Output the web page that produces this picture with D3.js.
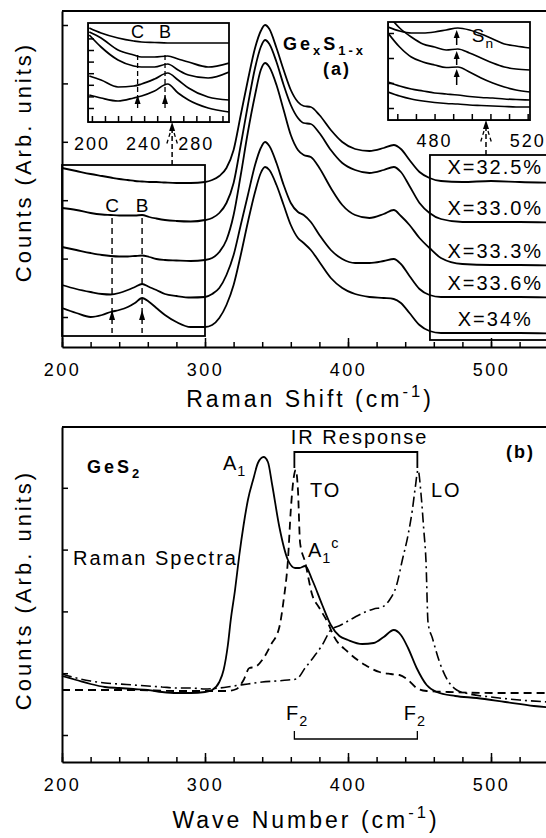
<!DOCTYPE html>
<html>
<head>
<meta charset="utf-8">
<title>GexS1-x Raman spectra</title>
<script src="https://cdn.jsdelivr.net/npm/d3@7"></script>
<style>
    body { margin: 0; background: #fff; overflow: hidden; }
    svg { display: block; font-family: 'Liberation Sans', Arial, sans-serif; }
</style>
</head>
<body>
<div id="container"></div>
<script>
// ---- panel (a): Raman spectra of GexS1-x, counts in arbitrary units ----
var xTop = [200,210,220,228,234,240,246,251,256,261,266,272,280,290,300,305,310,315,320,325,330,335,339,342,345,350,355,360,365,369,374,380,388,396,405,415,425,432,437,443,450,457,465,480,500,520,555];
var compLabels = ['X=32.5%', 'X=33.0%', 'X=33.3%', 'X=33.6%', 'X=34%'];
var s325 = [17.9,17.6,17.3,17.1,16.95,16.8,16.7,16.6,16.55,16.5,16.5,16.45,16.4,16.4,16.5,16.7,17.1,17.9,19.7,23.2,26.7,29.9,31.6,32.2,31.8,29.9,27.7,25.7,24.5,24.1,24.0,23.2,21.7,20.5,19.8,19.6,19.9,20.2,19.8,18.7,17.5,16.9,16.6,16.5,16.6,16.5,16.4];
var s330 = [13.9,13.7,13.4,13.25,13.2,13.15,13.15,13.15,13.2,13.0,12.85,12.7,12.6,12.55,12.7,12.9,13.4,14.4,16.4,20.2,24.2,27.9,30.0,30.7,30.3,28.5,26.2,24.2,22.9,22.4,22.3,21.4,19.7,18.4,17.7,17.4,17.7,18.0,17.5,16.1,14.4,13.4,12.8,12.5,12.5,12.5,12.4];
var s333 = [10.0,9.7,9.4,9.2,9.1,9.05,9.05,9.1,9.15,9.0,8.8,8.7,8.65,8.6,8.7,8.9,9.5,10.7,13.2,17.2,21.5,25.2,27.7,28.4,28.0,26.2,23.7,21.2,19.7,19.2,19.0,17.9,15.9,14.2,13.2,12.9,13.3,13.7,13.1,12.2,10.9,9.9,8.9,8.3,8.2,8.2,8.1];
var s336 = [6.2,5.8,5.5,5.3,5.25,5.4,5.7,6.0,6.3,6.0,5.7,5.3,5.1,4.95,5.0,5.3,5.9,7.2,9.2,12.2,15.2,18.2,19.9,20.5,20.1,18.4,16.2,14.4,13.5,13.2,12.5,11.2,9.7,8.8,8.4,8.4,8.6,8.8,8.3,7.1,5.8,5.2,5.0,5.0,5.0,5.0,4.9];
var s340 = [3.9,3.4,3.0,3.2,3.5,3.7,4.0,4.4,4.9,4.5,3.9,3.2,2.5,2.0,2.0,2.2,2.9,4.2,6.2,9.2,12.5,15.5,17.4,18.0,17.7,16.2,14.2,12.2,10.9,10.4,9.7,8.5,6.9,5.9,5.3,5.0,4.9,4.8,4.4,3.4,2.2,1.6,1.4,1.4,1.4,1.4,1.3];
var topSeries = [s325, s330, s333, s336, s340];
var bandC = 235, bandB = 256, bandSn = 489.5;

// inset, 200-300 cm-1 region
var insetLX = [198,207,220,232,238,248,258,266,274,289,305];
var iL1 = [9.4,8.9,8.4,8.1,8.0,7.95,7.9,7.9,7.9,7.9,7.9];
var iL2 = [9.0,8.4,7.2,6.7,6.5,6.5,6.6,6.3,6.0,5.5,5.9];
var iL3 = [8.7,7.5,6.2,5.6,5.5,5.5,5.8,5.2,4.7,4.4,5.0];
var iL4 = [4.6,4.2,3.5,3.6,3.8,4.3,4.9,4.2,3.4,2.5,2.2];
var iL5 = [2.7,2.4,2.1,2.4,2.6,3.1,3.8,2.9,2.2,1.4,1.0];
var insetLTicks = [200, 240, 280];

// inset, 460-520 cm-1 region
var insetRX = [460,465,470,475,480,485,490,495,500,505,510,515,521];
var iR1 = [9.3,8.9,8.7,8.7,8.8,9.0,9.2,9.0,8.6,8.1,7.6,7.4,7.2];
var iR2 = [10.5,9.2,8.3,7.6,7.3,7.0,7.1,6.7,6.2,5.7,5.3,5.1,5.0];
var iR3 = [8.7,7.3,6.3,5.8,5.5,5.25,5.3,4.8,4.2,3.7,3.3,3.0,2.8];
var iR4 = [3.8,3.4,3.1,2.9,2.7,2.6,2.5,2.35,2.25,2.2,2.1,2.05,2.0];
var iR5 = [2.8,2.4,2.1,1.9,1.75,1.65,1.6,1.5,1.45,1.4,1.35,1.3,1.3];
var insetRTicks = [480, 520];

// ---- panel (b): GeS2 Raman and IR response ----
var ramanX = [200,210,220,230,240,250,260,270,280,290,300,305,310,313,316,318,321,324,327,330,334,337,341,344,347,352,358,363,366,370,375,382,388,394,400,410,418,425,432,437,442,448,455,462,475,490,510,530,555];
var ramanY = [8.6,8.2,7.8,7.5,7.4,7.3,7.2,7.0,6.9,6.9,7.0,7.2,8.0,9.2,11.7,14.2,17.2,20.7,23.7,26.2,28.4,29.9,30.5,30.0,27.7,23.5,20.2,19.4,19.4,19.6,18.2,15.7,13.7,12.6,12.2,11.8,11.9,12.5,13.2,12.7,11.4,9.4,7.7,7.0,6.6,6.4,6.0,5.6,5.3];
var toX = [200,220,250,280,300,315,322,327,331,335,341,346,352,355,358,360,362,363.5,365,366.5,370,375,380,386,390,400,412,422,430,436,442,448,455,470,500,530,555];
var toY = [7.2,7.2,7.2,7.1,7.1,7.1,7.3,8.2,9.4,9.5,10.4,11.7,13.5,16.2,20.2,25.2,28.4,29.2,27.2,21.9,20.0,16.7,15.4,13.9,12.6,11.0,9.7,9.0,8.8,8.7,8.2,7.4,7.1,7.0,6.9,6.9,6.9];
var loX = [200,210,220,230,240,250,260,270,280,290,300,310,320,330,340,350,358,364,370,376,382,388,395,405,412,418,424,429,434,438,442,445,447,449,451,453,454.5,456,459,464,470,476,485,500,520,555];
var loY = [8.8,8.4,8.1,7.9,7.8,7.7,7.6,7.5,7.4,7.4,7.3,7.4,7.6,7.8,8.0,8.1,8.2,8.3,9.4,10.5,11.7,13.2,13.7,14.5,15.0,15.3,15.5,16.2,17.7,20.2,22.7,25.2,27.4,29.2,26.9,23.2,20.2,13.9,12.4,10.0,8.1,7.2,6.8,6.5,6.2,5.9];
var bandTO = 362.5, bandLO = 448.5;

var xMajor = [200, 300, 400, 500];

var W = 546, H = 838;
var svg = d3.select('#container').append('svg').attr('width', W).attr('height', H);

var x = d3.scaleLinear().domain([200, 555]).range([62, 569.65]);
var yA = d3.scaleLinear().domain([0, 33.6]).range([347, 11]);
var yB = d3.scaleLinear().domain([0, 33.5]).range([762, 427]);

function lineOf(xs, ys, sx, sy) {
    return d3.line().x(function (d, i) { return sx(xs[i]); }).y(function (d) { return sy(d); })
        .curve(d3.curveMonotoneX)(ys);
}

function rich(parent, px, py, parts, size, weight, ls, anchor) {
    var t = parent.append('text').attr('x', px).attr('y', py)
        .attr('font-size', size).attr('font-weight', weight || 'normal')
        .attr('text-anchor', anchor || 'start')
        .style('letter-spacing', (ls || 0) + 'px');
    var shift = 0;
    parts.forEach(function (p) {
        var s = typeof p === 'string' ? { t: p } : p;
        var target = s.sub ? size * 0.3 : (s.sup ? -size * 0.45 : 0);
        t.append('tspan').attr('dy', target - shift)
            .attr('font-size', (s.sub || s.sup) ? size * 0.72 : size).text(s.t);
        shift = target;
    });
    return t;
}

function arrowUp(g, px, tip, len) {
    g.append('path').attr('d', 'M' + px + ',' + tip + 'L' + (px - 3) + ',' + (tip + len) + 'L' + (px + 3) + ',' + (tip + len) + 'Z')
        .attr('fill', '#000');
}

function connector(g, px, yFrom, yTo) {
    g.append('line').attr('x1', px).attr('x2', px).attr('y1', yFrom).attr('y2', yTo + 8)
        .attr('stroke', '#000').attr('stroke-width', 1.5).attr('stroke-dasharray', '5,3');
    arrowUp(g, px, yTo, 9);
    [-1, 1].forEach(function (s) {
        g.append('line').attr('x1', px + s * 2).attr('y1', yTo + 11).attr('x2', px + s * 6).attr('y2', yTo + 24)
            .attr('stroke', '#000').attr('stroke-width', 1.3).attr('stroke-dasharray', '4,3');
    });
}

function xAxis(yPos) {
    var g = svg.append('g').attr('transform', 'translate(0,' + yPos + ')');
    g.call(d3.axisBottom(x).tickValues(d3.range(200, 560, 20)).tickSize(-5).tickSizeOuter(0).tickFormat(''));
    var gm = svg.append('g').attr('transform', 'translate(0,' + yPos + ')');
    gm.call(d3.axisBottom(x).tickValues(xMajor).tickSize(-9).tickSizeOuter(0).tickPadding(16).tickFormat(d3.format('d')));
    gm.select('.domain').remove();
    g.select('.domain').attr('stroke-width', 2);
    gm.selectAll('text').attr('font-size', 18).attr('font-family', "'Liberation Sans', Arial, sans-serif")
        .style('letter-spacing', '2.5px').attr('fill', '#000');
    svg.selectAll('.tick line').attr('stroke-width', 1.5);
}

function yAxis(scale, ticks) {
    var g = svg.append('g').attr('transform', 'translate(62,0)');
    g.call(d3.axisLeft(scale).tickValues(ticks).tickSize(-6).tickSizeOuter(0).tickFormat(''));
    g.select('.domain').attr('stroke-width', 2);
    g.selectAll('.tick line').attr('stroke-width', 1.5);
}

// ================= panel (a) =================
var pa = svg.append('g');
pa.append('line').attr('x1', 62).attr('x2', W).attr('y1', yA(33.6)).attr('y2', yA(33.6))
    .attr('stroke', '#000').attr('stroke-width', 2);
xAxis(yA(0));
yAxis(yA, d3.range(3.0, 33, 5.84));

topSeries.forEach(function (s) {
    pa.append('path').attr('d', lineOf(xTop, s, x, yA)).attr('fill', 'none')
        .attr('stroke', '#000').attr('stroke-width', 1.8);
});

// boxes around the zoomed regions
pa.append('rect').attr('x', x(200)).attr('y', yA(18.2)).attr('width', x(300) - x(200)).attr('height', yA(1.1) - yA(18.2))
    .attr('fill', 'none').attr('stroke', '#000').attr('stroke-width', 1.8);
pa.append('rect').attr('x', x(457.3)).attr('y', yA(19.2)).attr('width', 200).attr('height', yA(0.7) - yA(19.2))
    .attr('fill', 'none').attr('stroke', '#000').attr('stroke-width', 1.8);

// composition labels above each curve end
compLabels.forEach(function (t, i) {
    var v = topSeries[i][xTop.indexOf(500)];
    rich(pa, x(503), yA(v) - 7, [t], 20, 'normal', 2, 'middle');
});

// C and B bands in main plot
[[bandC, 'C'], [bandB, 'B']].forEach(function (b) {
    pa.append('line').attr('x1', x(b[0])).attr('x2', x(b[0])).attr('y1', yA(12.9)).attr('y2', yA(1.4))
        .attr('stroke', '#000').attr('stroke-width', 1.4).attr('stroke-dasharray', '6,4');
    arrowUp(pa, x(b[0]), yA(3.7), 10);
    rich(pa, x(b[0]), yA(13.5), [b[1]], 19, 'normal', 0, 'middle');
});

rich(pa, x(354.5), yA(29.7), ['Ge', { t: 'x', sub: true }, 'S', { t: '1-x', sub: true }], 18, 'bold', 3);
rich(pa, x(382.5), yA(27.2), ['(a)'], 18, 'bold', 2);

// left inset
var ixL = d3.scaleLinear().domain([197, 305]).range([88, 229]);
var iyL = d3.scaleLinear().domain([0, 9.9]).range([122, 23]);
var clipL = svg.append('clipPath').attr('id', 'clipL').append('rect')
    .attr('x', 88).attr('y', 23).attr('width', 141).attr('height', 99);
var gL = pa.append('g');
gL.append('rect').attr('x', 88).attr('y', 23).attr('width', 141).attr('height', 99).attr('fill', '#fff');
[iL1, iL2, iL3, iL4, iL5].forEach(function (s) {
    gL.append('path').attr('d', lineOf(insetLX, s, ixL, iyL)).attr('clip-path', 'url(#clipL)')
        .attr('fill', 'none').attr('stroke', '#000').attr('stroke-width', 1.7);
});
var gLb = gL.append('g').attr('transform', 'translate(0,122)')
    .call(d3.axisBottom(ixL).tickValues(d3.range(200, 306, 10)).tickSize(-6).tickSizeOuter(0).tickFormat(''));
var gLl = gL.append('g').attr('transform', 'translate(88,0)')
    .call(d3.axisLeft(iyL).tickValues(d3.range(1.4, 9, 1.16)).tickSize(-6).tickSizeOuter(0).tickFormat(''));
gL.append('rect').attr('x', 88).attr('y', 23).attr('width', 141).attr('height', 99)
    .attr('fill', 'none').attr('stroke', '#000').attr('stroke-width', 1.8);
insetLTicks.forEach(function (v) {
    rich(gL, ixL(v), 150, [String(v)], 18, 'normal', 2, 'middle');
});
[[bandC, 'C'], [bandB, 'B']].forEach(function (b) {
    gL.append('line').attr('x1', ixL(b[0])).attr('x2', ixL(b[0])).attr('y1', iyL(6.7)).attr('y2', iyL(1.2))
        .attr('stroke', '#000').attr('stroke-width', 1.3).attr('stroke-dasharray', '5,3');
    arrowUp(gL, ixL(b[0]), iyL(2.7), 9);
    rich(gL, ixL(b[0]), iyL(8.4), [b[1]], 18, 'normal', 0, 'middle');
});
connector(pa, x(277), yA(18.2), 122);

// right inset
var ixR = d3.scaleLinear().domain([460, 521]).range([388, 530]);
var iyR = d3.scaleLinear().domain([0, 9.8]).range([120, 22]);
svg.append('clipPath').attr('id', 'clipR').append('rect')
    .attr('x', 388).attr('y', 22).attr('width', 142).attr('height', 98);
var gR = pa.append('g');
gR.append('rect').attr('x', 388).attr('y', 22).attr('width', 142).attr('height', 98).attr('fill', '#fff');
[iR1, iR2, iR3, iR4, iR5].forEach(function (s) {
    gR.append('path').attr('d', lineOf(insetRX, s, ixR, iyR)).attr('clip-path', 'url(#clipR)')
        .attr('fill', 'none').attr('stroke', '#000').attr('stroke-width', 1.7);
});
gR.append('g').attr('transform', 'translate(0,120)')
    .call(d3.axisBottom(ixR).tickValues(d3.range(464, 521, 8)).tickSize(-6).tickSizeOuter(0).tickFormat(''));
gR.append('g').attr('transform', 'translate(388,0)')
    .call(d3.axisLeft(iyR).tickValues(d3.range(1.2, 9.5, 2.5)).tickSize(-6).tickSizeOuter(0).tickFormat(''));
gR.append('rect').attr('x', 388).attr('y', 22).attr('width', 142).attr('height', 98)
    .attr('fill', 'none').attr('stroke', '#000').attr('stroke-width', 1.8);
insetRTicks.forEach(function (v) {
    rich(gR, ixR(v), 147, [String(v)], 18, 'normal', 2, 'middle');
});
[[7.5, 9.0], [5.5, 6.9], [3.5, 5.1]].forEach(function (a) {
    gR.append('line').attr('x1', ixR(bandSn)).attr('x2', ixR(bandSn)).attr('y1', iyR(a[0])).attr('y2', iyR(a[1]) + 6)
        .attr('stroke', '#000').attr('stroke-width', 1.5);
    arrowUp(gR, ixR(bandSn), iyR(a[1]), 8);
});
rich(gR, ixR(496), iyR(7.8), ['S', { t: 'n', sub: true }], 19, 'normal', 1);
connector(pa, x(496.5), yA(19.2), 120);

pa.selectAll('.domain').attr('stroke', '#000');

// axis titles (a)
rich(svg, 310, 407, ['Raman Shift (cm', { t: '-1', sup: true }, ')'], 23, 'normal', 3, 'middle');
svg.append('text').attr('transform', 'translate(31,162) rotate(-90)').attr('text-anchor', 'middle')
    .attr('font-size', 22).style('letter-spacing', '3px').text('Counts (Arb. units)');

// ================= panel (b) =================
var pb = svg.append('g');
pb.append('line').attr('x1', 62).attr('x2', W).attr('y1', yB(33.5)).attr('y2', yB(33.5))
    .attr('stroke', '#000').attr('stroke-width', 2);
xAxis(yB(0));
yAxis(yB, d3.range(2.7, 30, 6.18));

pb.append('path').attr('d', lineOf(ramanX, ramanY, x, yB)).attr('fill', 'none')
    .attr('stroke', '#000').attr('stroke-width', 1.8);
pb.append('path').attr('d', lineOf(toX, toY, x, yB)).attr('fill', 'none')
    .attr('stroke', '#000').attr('stroke-width', 1.8).attr('stroke-dasharray', '8,5');
pb.append('path').attr('d', lineOf(loX, loY, x, yB)).attr('fill', 'none')
    .attr('stroke', '#000').attr('stroke-width', 1.6).attr('stroke-dasharray', '10,4,2,4');

// IR response bracket
pb.append('path').attr('d', 'M' + x(bandTO) + ',' + yB(29.4) + 'V' + yB(31.0) + 'H' + x(bandLO) + 'V' + yB(29.4))
    .attr('fill', 'none').attr('stroke', '#000').attr('stroke-width', 1.8);
// F2 bracket
pb.append('path').attr('d', 'M' + x(bandTO) + ',' + yB(3.1) + 'V' + yB(2.3) + 'H' + x(bandLO) + 'V' + yB(3.1))
    .attr('fill', 'none').attr('stroke', '#000').attr('stroke-width', 1.3);

rich(pb, x(217.5), yB(28.9), ['GeS', { t: '2', sub: true }], 18, 'bold', 3);
rich(pb, x(312.6), yB(29.2), ['A', { t: '1', sub: true }], 20, 'normal', 1);
rich(pb, x(207.7), yB(19.7), ['Raman Spectra'], 20, 'normal', 2);
rich(pb, x(360), yB(31.8), ['IR Response'], 20, 'normal', 2);
rich(pb, x(510.5), yB(30.4), ['(b)'], 18, 'bold', 2);
rich(pb, x(373.4), yB(26.5), ['TO'], 20, 'normal', 2);
rich(pb, x(458), yB(26.5), ['LO'], 20, 'normal', 2);
rich(pb, x(372), yB(20.5), ['A', { t: '1', sub: true }, { t: 'c', sup: true }], 20, 'normal', 1);
rich(pb, x(356.6), yB(4.2), ['F', { t: '2', sub: true }], 20, 'normal', 1);
rich(pb, x(439), yB(4.2), ['F', { t: '2', sub: true }], 20, 'normal', 1);

rich(svg, 306, 828, ['Wave Number (cm', { t: '-1', sup: true }, ')'], 23, 'normal', 3, 'middle');
svg.append('text').attr('transform', 'translate(31,590) rotate(-90)').attr('text-anchor', 'middle')
    .attr('font-size', 22).style('letter-spacing', '3px').text('Counts (Arb. units)');

svg.selectAll('.domain, .tick line').attr('stroke', '#000');
</script>
</body>
</html>
